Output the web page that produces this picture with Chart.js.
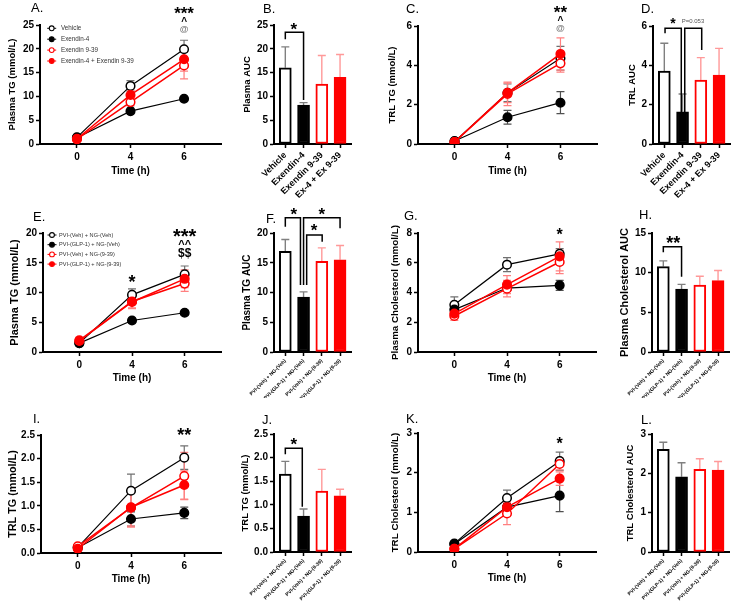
<!DOCTYPE html>
<html>
<head>
<meta charset="utf-8">
<script src="https://cdn.jsdelivr.net/npm/chart.js@4"></script>
<style>
  body { margin: 0; background: #fff; }
  #fig { position: relative; width: 748px; height: 604px; overflow: hidden; }
  #fig canvas { position: absolute; }
  .tag { position: absolute; font: 13px/13px 'Liberation Sans', Arial, sans-serif; color: #000; }
</style>
</head>
<body>
<div id="fig"></div>
<script>
// ---- data ----
const times = ['0', '4', '6'];
const groups1 = ['Vehicle', 'Exendin-4', 'Exendin 9-39', 'Exendin-4 + Exendin 9-39'];
const barLabels1 = ['Vehicle', 'Exendin-4', 'Exendin 9-39', 'Ex-4 + Ex 9-39'];
const groups2 = ['PVI-(Veh) + NG-(Veh)', 'PVI-(GLP-1) + NG-(Veh)', 'PVI-(Veh) + NG-(9-39)', 'PVI-(GLP-1) + NG-(9-39)'];

// A. plasma TG (one row per group, columns = time points)
const plasmaTg1 = [[1.4, 12.2, 19.9], [1.3, 6.9, 9.5], [1.0, 8.8, 16.5], [1.1, 10.3, 17.8]];
const plasmaTg1Sem = [[0.3, 1.1, 1.9], [0.2, 0.3, 0.3], [0.2, 0.8, 2.8], [0.2, 1.0, 2.5]];
// B. plasma AUC
const plasmaAuc1 = [16.0, 8.2, 12.6, 14.0];
const plasmaAuc1Sem = [4.4, 0.5, 6.0, 4.8];
// C. TRL TG
const trlTg1 = [[0.12, 2.6, 4.36], [0.15, 1.36, 2.1], [0.1, 2.55, 4.1], [0.1, 2.6, 4.58]];
const trlTg1Sem = [[0.05, 0.45, 0.6], [0.05, 0.35, 0.56], [0.05, 0.6, 0.45], [0.05, 0.5, 0.82]];
// D. TRL AUC
const trlAuc1 = [3.71, 1.64, 3.25, 3.51];
const trlAuc1Sem = [1.41, 0.9, 1.14, 1.35];
// E. plasma TG
const plasmaTg2 = [[1.5, 9.6, 13.05], [1.5, 5.3, 6.6], [1.95, 8.5, 11.5], [1.85, 8.4, 12.3]];
const plasmaTg2Sem = [[0.2, 1.0, 1.4], [0.2, 0.35, 0.4], [0.5, 1.2, 1.3], [0.3, 1.0, 1.5]];
// F. plasma TG AUC
const plasmaTgAuc2 = [16.9, 9.25, 15.25, 15.5];
const plasmaTgAuc2Sem = [2.0, 0.85, 2.25, 2.4];
// G. plasma cholesterol
const plasmaChol2 = [[3.18, 5.87, 6.6], [2.85, 4.3, 4.48], [2.42, 4.26, 6.05], [2.58, 4.53, 6.43]];
const plasmaChol2Sem = [[0.52, 0.47, 0.35], [0.2, 0.2, 0.34], [0.3, 0.55, 0.78], [0.2, 0.6, 0.97]];
// H. plasma cholesterol AUC
const plasmaCholAuc2 = [10.77, 7.94, 8.45, 9.0];
const plasmaCholAuc2Sem = [0.72, 0.59, 1.1, 1.27];
// I. TRL TG
const trlTg2 = [[0.12, 1.32, 2.02], [0.11, 0.72, 0.85], [0.14, 0.96, 1.63], [0.09, 0.97, 1.44]];
const trlTg2Sem = [[0.03, 0.35, 0.25], [0.02, 0.15, 0.12], [0.03, 0.41, 0.5], [0.02, 0.4, 0.3]];
// J. TRL TG AUC
const trlTgAuc2 = [1.65, 0.76, 1.29, 1.19];
const trlTgAuc2Sem = [0.27, 0.15, 0.46, 0.14];
// K. TRL cholesterol
const trlChol2 = [[0.21, 1.36, 2.29], [0.2, 1.13, 1.42], [0.08, 0.97, 2.22], [0.08, 1.13, 1.85]];
const trlChol2Sem = [[0.03, 0.2, 0.23], [0.03, 0.1, 0.4], [0.02, 0.28, 0.15], [0.02, 0.15, 0.17]];
// L. TRL cholesterol AUC
const trlCholAuc2 = [2.61, 1.91, 2.10, 2.08];
const trlCholAuc2Sem = [0.18, 0.36, 0.27, 0.22];

// ---- styles ----
const groupStyle = [
  { color: '#000000', fill: '#ffffff', err: '#707070', barErr: '#808080', width: 1.2 },
  { color: '#000000', fill: '#000000', err: '#505050', barErr: '#808080', width: 1.2 },
  { color: '#ff0000', fill: '#ffffff', err: '#ff8080', barErr: '#ff9999', width: 1.5 },
  { color: '#ff0000', fill: '#ff0000', err: '#ff8080', barErr: '#ff9999', width: 1.5 }
];
const FONT = "'Liberation Sans', Arial, sans-serif";

Chart.defaults.font.family = FONT;
Chart.defaults.color = '#000';
Chart.defaults.animation = false;
Chart.defaults.plugins.legend.display = false;
Chart.defaults.plugins.tooltip.enabled = false;

// annotations per canvas, in data units
const notesById = {};

// error bars, drawn under the marks
const errorBarPlugin = {
  id: 'errorBars',
  beforeDatasetsDraw(chart) {
    const ctx = chart.ctx;
    const y = chart.scales.y;
    chart.data.datasets.forEach((ds, di) => {
      if (!ds.errorBars) return;
      const meta = chart.getDatasetMeta(di);
      const isBar = meta.type === 'bar';
      meta.data.forEach((el, i) => {
        const v = ds.data[i].y;
        const e = ds.errorBars[i];
        const top = y.getPixelForValue(v + e);
        const bot = isBar ? el.y : y.getPixelForValue(v - e);
        ctx.save();
        ctx.strokeStyle = Array.isArray(ds.errorColor) ? ds.errorColor[i] : ds.errorColor;
        ctx.lineWidth = isBar ? 1.4 : 1.2;
        ctx.beginPath();
        ctx.moveTo(el.x, bot);
        ctx.lineTo(el.x, top);
        ctx.moveTo(el.x - 4, top);
        ctx.lineTo(el.x + 4, top);
        if (!isBar) {
          ctx.moveTo(el.x - 4, bot);
          ctx.lineTo(el.x + 4, bot);
        }
        ctx.stroke();
        ctx.restore();
      });
    });
  }
};

// significance marks, brackets and the small in-plot legend
const glyphLift = { '*': 0.57, '^': 0.52, '@': 0.26, '$': 0.33 };
const notesPlugin = {
  id: 'notes',
  afterDatasetsDraw(chart) {
    const n = notesById[chart.canvas.id];
    if (!n) return;
    const ctx = chart.ctx;
    const area = chart.chartArea;
    const x = chart.scales.x, y = chart.scales.y;
    ctx.save();
    ctx.strokeStyle = '#000';
    ctx.lineWidth = 1.5;
    (n.brackets || []).forEach(b => {
      const x1 = x.getPixelForValue(b.from);
      const x2 = x.getPixelForValue(b.to);
      const yb = y.getPixelForValue(b.y);
      ctx.beginPath();
      ctx.moveTo(x1, y.getPixelForValue(b.leftEnd));
      ctx.lineTo(x1, yb);
      ctx.lineTo(x2, yb);
      ctx.lineTo(x2, y.getPixelForValue(b.rightEnd));
      ctx.stroke();
    });
    (n.marks || []).forEach(m => {
      ctx.font = (m.weight || 'bold') + ' ' + m.size + 'px ' + FONT;
      ctx.fillStyle = m.color || '#000';
      ctx.textAlign = 'center';
      ctx.textBaseline = 'alphabetic';
      const lift = glyphLift[m.text[0]] !== undefined ? glyphLift[m.text[0]] : 0.36;
      ctx.fillText(m.text, x.getPixelForValue(m.x), y.getPixelForValue(m.y) + lift * m.size);
    });
    if (n.legend) {
      const lg = n.legend;
      chart.data.datasets.forEach((ds, i) => {
        const cx = area.left + lg.dx;
        const cy = area.top + lg.dy + i * lg.step;
        ctx.strokeStyle = ds.borderColor;
        ctx.lineWidth = 1;
        ctx.beginPath();
        ctx.moveTo(cx - 4.5, cy);
        ctx.lineTo(cx + 4.5, cy);
        ctx.stroke();
        ctx.beginPath();
        ctx.arc(cx, cy, 2.4, 0, Math.PI * 2);
        ctx.fillStyle = ds.pointBackgroundColor;
        ctx.fill();
        ctx.lineWidth = 1.1;
        ctx.stroke();
        ctx.font = lg.size + 'px ' + FONT;
        ctx.fillStyle = '#333';
        ctx.textAlign = 'left';
        ctx.textBaseline = 'middle';
        ctx.fillText(ds.label, area.left + lg.textDx, cy);
      });
    }
    ctx.restore();
  }
};
Chart.register(errorBarPlugin, notesPlugin);

const fig = document.getElementById('fig');

function axisGrid() {
  return { display: true, drawOnChartArea: false, drawTicks: true, tickLength: 4, tickWidth: 1.5, tickColor: '#000', offset: false };
}

function yAxis(p) {
  return {
    min: 0,
    max: p.yMax,
    ticks: { stepSize: p.yStep, padding: 2, font: { size: 10, weight: 'bold' }, callback: p.yFmt || (v => v) },
    grid: axisGrid(),
    border: { display: true, color: '#000', width: 2 },
    title: {
      display: true, text: p.yTitle,
      font: { size: p.yTitleSize, weight: 'bold' },
      padding: { top: p.yTitleX - p.box[0] - 0.6 * p.yTitleSize, bottom: 0 }
    },
    afterFit: s => { s.width = p.area[0] - p.box[0]; s.paddingTop = 0; s.paddingBottom = 0; }
  };
}

function xAxis(p, labels, min, max, opts) {
  const canvasBottom = p.box[1] + p.box[3];
  const axis = {
    type: 'linear',
    min: min,
    max: max,
    offset: false,
    afterBuildTicks: s => { s.ticks = labels.map((_, i) => ({ value: i })); },
    ticks: {
      autoSkip: false, padding: opts.padding,
      minRotation: opts.rotation, maxRotation: opts.rotation,
      font: { size: opts.fontSize, weight: 'bold' },
      callback: v => labels[v]
    },
    grid: axisGrid(),
    border: { display: true, color: '#000', width: 2 },
    afterFit: s => { s.height = canvasBottom - p.area[3]; s.paddingLeft = 0; s.paddingRight = 0; }
  };
  if (opts.title) {
    axis.title = {
      display: true, text: opts.title, font: { size: 10, weight: 'bold' },
      padding: { top: 0, bottom: canvasBottom - p.xTitleY - 6 }
    };
  }
  return axis;
}

function makeCanvas(id, p) {
  const c = document.createElement('canvas');
  c.id = 'panel' + id;
  c.width = p.box[2];
  c.height = p.box[3];
  c.style.left = p.box[0] + 'px';
  c.style.top = p.box[1] + 'px';
  fig.appendChild(c);
  const tag = document.createElement('div');
  tag.className = 'tag';
  tag.textContent = id + '.';
  tag.style.left = p.tag[0] + 'px';
  tag.style.top = (p.tag[1] - 1.7) + 'px';
  fig.appendChild(tag);
  notesById[c.id] = p.notes || {};
  return c;
}

function layoutPadding(p) {
  return { top: p.area[1] - p.box[1], right: p.box[0] + p.box[2] - p.area[2], left: 0, bottom: 0 };
}

function lineChart(id, p, values, sems, names) {
  const c = makeCanvas(id, p);
  return new Chart(c, {
    type: 'line',
    data: {
      datasets: values.map((row, g) => ({
        label: names[g],
        data: row.map((v, i) => ({ x: i, y: v })),
        errorBars: sems[g],
        errorColor: groupStyle[g].err,
        borderColor: groupStyle[g].color,
        borderWidth: groupStyle[g].width,
        pointRadius: 4.3,
        pointBorderWidth: 1.5,
        pointBackgroundColor: groupStyle[g].fill,
        pointBorderColor: groupStyle[g].color,
        fill: false,
        tension: 0,
        order: 3 - g
      }))
    },
    options: {
      responsive: false,
      layout: { padding: layoutPadding(p) },
      scales: {
        x: xAxis(p, times, -0.69, 2.69, { padding: 3, rotation: 0, fontSize: 10, title: 'Time (h)' }),
        y: yAxis(p)
      }
    }
  });
}

function barChart(id, p, values, sems, labels) {
  const c = makeCanvas(id, p);
  return new Chart(c, {
    type: 'bar',
    data: {
      datasets: [{
        data: values.map((v, i) => ({ x: i, y: v })),
        errorBars: sems,
        errorColor: groupStyle.map(s => s.barErr),
        backgroundColor: groupStyle.map(s => s.fill),
        borderColor: groupStyle.map(s => s.color),
        borderWidth: 2,
        borderSkipped: false,
        barThickness: 12
      }]
    },
    options: {
      responsive: false,
      layout: { padding: layoutPadding(p) },
      scales: {
        x: xAxis(p, labels, -0.62, 3.6, { padding: 2, rotation: 45, fontSize: p.xFont }),
        y: yAxis(p)
      }
    }
  });
}

// ---- panels ----
lineChart('A', {
  box: [0, 0, 232, 200], area: [40, 25, 221, 144], tag: [31, 3],
  yMax: 25, yStep: 5, yTitle: 'Plasma TG (mmol/L)', yTitleX: 12, yTitleSize: 9.5, xTitleY: 171,
  notes: {
    marks: [
      { x: 2, y: 28.4, text: '***', size: 17 },
      { x: 2, y: 26.05, text: '^', size: 10 },
      { x: 2, y: 24.0, text: '@', size: 9, color: '#808080' }
    ],
    legend: { dx: 11.7, dy: 3.3, step: 10.9, size: 6.3, textDx: 21 }
  }
}, plasmaTg1, plasmaTg1Sem, groups1);

barChart('B', {
  box: [232, 0, 136, 200], area: [274, 25, 351, 144], tag: [263, 3.3],
  yMax: 25, yStep: 5, yTitle: 'Plasma AUC', yTitleX: 247, yTitleSize: 9.5, xFont: 9,
  notes: {
    brackets: [{ from: 0, to: 1, y: 23.46, leftEnd: 22.0, rightEnd: 9.24 }],
    marks: [{ x: 0.47, y: 25.0, text: '*', size: 17 }]
  }
}, plasmaAuc1, plasmaAuc1Sem, barLabels1);

lineChart('C', {
  box: [368, 0, 238, 200], area: [418, 26, 597, 144], tag: [406, 4],
  yMax: 6, yStep: 2, yTitle: 'TRL TG (mmol/L)', yTitleX: 392, yTitleSize: 9.5, xTitleY: 171,
  notes: {
    marks: [
      { x: 2, y: 6.9, text: '**', size: 17 },
      { x: 2, y: 6.39, text: '^', size: 10 },
      { x: 2, y: 5.84, text: '@', size: 9, color: '#808080' }
    ]
  }
}, trlTg1, trlTg1Sem, groups1);

barChart('D', {
  box: [604, 0, 144, 200], area: [653, 26, 730, 144], tag: [641, 4],
  yMax: 6, yStep: 2, yTitle: 'TRL AUC', yTitleX: 632, yTitleSize: 9.5, xFont: 9,
  notes: {
    brackets: [
      { from: 0.04, to: 0.93, y: 5.88, leftEnd: 5.63, rightEnd: 1.0 },
      { from: 1.12, to: 2.05, y: 5.88, leftEnd: 1.0, rightEnd: 4.78 }
    ],
    marks: [
      { x: 0.47, y: 6.32, text: '*', size: 14 },
      { x: 1.57, y: 6.28, text: 'P=0.053', size: 6, weight: 'normal', color: '#555' }
    ]
  }
}, trlAuc1, trlAuc1Sem, barLabels1);

lineChart('E', {
  box: [0, 198, 232, 200], area: [43, 233, 221, 352], tag: [33, 212],
  yMax: 20, yStep: 5, yTitle: 'Plasma TG (mmol/L)', yTitleX: 15, yTitleSize: 11, xTitleY: 378,
  notes: {
    marks: [
      { x: 1, y: 12.5, text: '*', size: 18 },
      { x: 2, y: 20.3, text: '***', size: 20 },
      { x: 2, y: 18.4, text: '^^', size: 11 },
      { x: 2, y: 16.6, text: '$$', size: 12 }
    ],
    legend: { dx: 9, dy: 2, step: 9.7, size: 5.6, textDx: 16 }
  }
}, plasmaTg2, plasmaTg2Sem, groups2);

barChart('F', {
  box: [232, 198, 136, 200], area: [274, 233, 351, 352], tag: [266, 213.3],
  yMax: 20, yStep: 5, yTitle: 'Plasma TG AUC', yTitleX: 247, yTitleSize: 10, xFont: 5,
  notes: {
    brackets: [
      { from: 0.0, to: 0.83, y: 22.57, leftEnd: 21.06, rightEnd: 11.26 },
      { from: 1.0, to: 3.0, y: 22.57, leftEnd: 11.26, rightEnd: 20.8 },
      { from: 1.17, to: 2.02, y: 19.66, leftEnd: 11.26, rightEnd: 18.54 }
    ],
    marks: [
      { x: 0.47, y: 23.8, text: '*', size: 17 },
      { x: 2.0, y: 23.8, text: '*', size: 17 },
      { x: 1.57, y: 21.1, text: '*', size: 17 }
    ]
  }
}, plasmaTgAuc2, plasmaTgAuc2Sem, groups2);

lineChart('G', {
  box: [368, 198, 238, 200], area: [418, 233, 596, 352], tag: [404, 210.7],
  yMax: 8, yStep: 2, yTitle: 'Plasma Cholesterol (mmol/L)', yTitleX: 395, yTitleSize: 9.8, xTitleY: 378,
  notes: { marks: [{ x: 2, y: 8.15, text: '*', size: 16 }] }
}, plasmaChol2, plasmaChol2Sem, groups2);

barChart('H', {
  box: [604, 198, 144, 200], area: [652, 233, 729, 352], tag: [639, 210],
  yMax: 15, yStep: 5, yTitle: 'Plasma Cholesterol AUC', yTitleX: 625, yTitleSize: 11, xFont: 5,
  notes: {
    brackets: [{ from: 0.0, to: 1.0, y: 13.27, leftEnd: 12.57, rightEnd: 9.5 }],
    marks: [{ x: 0.54, y: 14.3, text: '**', size: 18 }]
  }
}, plasmaCholAuc2, plasmaCholAuc2Sem, groups2);

lineChart('I', {
  box: [0, 398, 232, 206], area: [41, 435, 221, 553], tag: [33, 414],
  yMax: 2.5, yStep: 0.5, yFmt: v => v.toFixed(1), yTitle: 'TRL TG (mmol/L)', yTitleX: 13, yTitleSize: 10.8, xTitleY: 579,
  notes: { marks: [{ x: 2, y: 2.58, text: '**', size: 18 }] }
}, trlTg2, trlTg2Sem, groups2);

barChart('J', {
  box: [232, 398, 136, 206], area: [274, 434, 351, 552], tag: [262, 415],
  yMax: 2.5, yStep: 0.5, yFmt: v => v.toFixed(1), yTitle: 'TRL TG (mmol/L)', yTitleX: 245, yTitleSize: 9.5, xFont: 5,
  notes: {
    brackets: [{ from: 0.0, to: 0.93, y: 2.2, leftEnd: 2.07, rightEnd: 0.96 }],
    marks: [{ x: 0.47, y: 2.37, text: '*', size: 17 }]
  }
}, trlTgAuc2, trlTgAuc2Sem, groups2);

lineChart('K', {
  box: [368, 398, 238, 206], area: [418, 433, 596, 552], tag: [406, 414],
  yMax: 3, yStep: 1, yTitle: 'TRL Cholesterol (mmol/L)', yTitleX: 395, yTitleSize: 9.8, xTitleY: 578,
  notes: { marks: [{ x: 2, y: 2.82, text: '*', size: 16 }] }
}, trlChol2, trlChol2Sem, groups2);

barChart('L', {
  box: [604, 398, 144, 206], area: [652, 434, 729, 552], tag: [641, 415],
  yMax: 3, yStep: 1, yTitle: 'TRL Cholesterol AUC', yTitleX: 630, yTitleSize: 9.5, xFont: 5
}, trlCholAuc2, trlCholAuc2Sem, groups2);
</script>
</body>
</html>
